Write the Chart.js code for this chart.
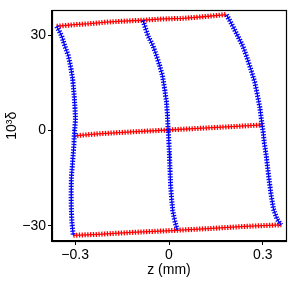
<!DOCTYPE html>
<html><head><meta charset="utf-8">
<script src="https://cdn.jsdelivr.net/npm/chart.js@4"></script>
<style>html,body{margin:0;padding:0;background:#fff}#w{width:288px;height:288px}</style>
</head><body><div id="w"><canvas id="c" width="288" height="288"></canvas></div>
<script>
const xTicks = [-0.3, 0, 0.3];
const yTicks = [-30, 0, 30];

// blue (constant-z) lines
const leftZ  = [-0.359,-0.343,-0.333,-0.322,-0.315,-0.308,-0.304,-0.301,-0.299,-0.301,-0.303,-0.304,-0.308,-0.312,-0.313,-0.312,-0.310,-0.306];
const leftD  = [32.9,29.8,26.7,23.6,20.5,16.3,12.1,8.0,3.8,0.7,-1.6,-4.5,-9.7,-14.9,-20.0,-25.2,-29.4,-33.0];
const midZ   = [-0.083,-0.067,-0.051,-0.040,-0.030,-0.021,-0.014,-0.008,-0.005,-0.003,-0.001,0.001,0.003,0.005,0.008,0.012,0.018,0.026];
const midD   = [34.7,29.8,26.7,23.6,20.5,17.4,13.2,9.0,4.9,0.7,-2.4,-6.5,-11.7,-16.9,-21.1,-25.2,-28.3,-31.2];
const rightZ = [0.184,0.204,0.220,0.236,0.249,0.263,0.274,0.282,0.290,0.295,0.300,0.305,0.311,0.316,0.321,0.327,0.334,0.345,0.358];
const rightD = [36.5,32.9,29.8,26.7,23.1,18.9,15.3,11.6,7.5,3.8,0.2,-4.0,-8.1,-12.2,-16.4,-20.6,-24.7,-27.8,-29.7];

// red (constant-delta) lines
const topZ    = [-0.359,-0.302,-0.253,-0.200,-0.147,-0.083,-0.019,0.045,0.109,0.183];
const topD    = [32.9,33.4,33.7,34.2,34.5,34.8,35.2,35.4,35.9,36.6];
const centerZ = [-0.303,-0.227,-0.120,-0.003,0.093,0.199,0.300];
const centerD = [-1.65,-1.0,-0.4,0.2,0.7,1.25,1.8];
const bottomZ = [-0.306,-0.226,-0.120,0.008,0.124,0.242,0.359];
const bottomD = [-33.0,-32.7,-32.1,-31.5,-30.9,-30.2,-29.7];

const BLUE = '#0000ff', RED = '#ff0000';
function pts(zs, ds){ return zs.map((z,i)=>({x:z, y:ds[i]})); }
// each curve = thin solid stroke + wide dashed stroke -> chain of "+" marks
function curve(zs, d, color){
  const base = {data: pts(zs, d), showLine: true, borderColor: color, backgroundColor: color,
    pointRadius: 0, pointHoverRadius: 0, tension: 0};
  return [
    Object.assign({}, base, {borderWidth: 1.3}),
    Object.assign({}, base, {borderWidth: 5, borderDash: [1.3, 1.5], borderCapStyle: 'butt'})
  ];
}
const fmt = v => (v < 0 ? '\u2212' + Math.abs(v) : String(v));
const FONT = {family: '"Liberation Sans", Arial, sans-serif', size: 14};

const frame = {
  id: 'frame',
  afterDraw(chart){
    const {ctx, chartArea: a} = chart;
    ctx.save();
    ctx.strokeStyle = '#000'; ctx.lineWidth = 1.2;
    ctx.strokeRect(Math.round(a.left)+0.5, Math.round(a.top)+0.5, Math.round(a.right-a.left), Math.round(a.bottom-a.top));
    ctx.restore();
  }
};

new Chart(document.getElementById('c'), {
  type: 'scatter',
  data: {datasets: [].concat(
    curve(leftZ, leftD, BLUE), curve(midZ, midD, BLUE), curve(rightZ, rightD, BLUE),
    curve(topZ, topD, RED), curve(centerZ, centerD, RED), curve(bottomZ, bottomD, RED)
  )},
  options: {
    responsive: false, animation: false, devicePixelRatio: 1,
    layout: {padding: {top: 7, right: 2, bottom: 0, left: 0}},
    plugins: {legend: {display: false}, tooltip: {enabled: false}},
    scales: {
      x: {
        type: 'linear', min: -0.374, max: 0.374,
        afterBuildTicks: s => { s.ticks = xTicks.map(v => ({value: v})); },
        afterFit: s => { s.height = 47; },
        ticks: {color: '#000', font: FONT, padding: 2, maxRotation: 0, callback: v => fmt(v)},
        grid: {drawOnChartArea: false, drawTicks: true, tickLength: 4, tickColor: '#000', tickWidth: 1},
        border: {display: true, color: '#000', width: 1.2},
        title: {display: true, text: 'z (mm)', color: '#000', font: FONT, padding: {top: 0, bottom: 9}}
      },
      y: {
        type: 'linear', min: -34.8, max: 37.9,
        afterBuildTicks: s => { s.ticks = yTicks.map(v => ({value: v})); },
        afterFit: s => { s.width = 52; },
        ticks: {color: '#000', font: FONT, padding: 2, callback: v => fmt(v)},
        grid: {drawOnChartArea: false, drawTicks: true, tickLength: 4, tickColor: '#000', tickWidth: 1},
        border: {display: true, color: '#000', width: 1.2},
        title: {display: true, text: '10\u00B3\u03B4', color: '#000', font: FONT, padding: {top: 4, bottom: 0}}
      }
    }
  },
  plugins: [frame]
});
</script></body></html>
